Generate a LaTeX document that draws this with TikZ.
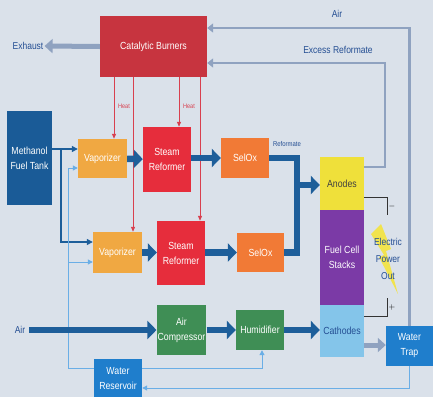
\documentclass[tikz,border=0pt]{standalone}
\usepackage{fontspec}
\setmainfont[FakeStretch=0.85]{Liberation Sans}
\usetikzlibrary{arrows.meta}
\definecolor{bgc}{HTML}{DAE1EA}
\definecolor{burnc}{HTML}{C7343F}
\definecolor{tankc}{HTML}{1A5B97}
\definecolor{vapc}{HTML}{F0A842}
\definecolor{src}{HTML}{E62D3C}
\definecolor{selc}{HTML}{F17A36}
\definecolor{anodec}{HTML}{EFE03A}
\definecolor{fcsc}{HTML}{7B3AA6}
\definecolor{cathc}{HTML}{84C5EA}
\definecolor{greenc}{HTML}{3F8E55}
\definecolor{bluec}{HTML}{1F7ECC}
\definecolor{dblue}{HTML}{1D5E9A}
\definecolor{retc}{HTML}{8FA2C0}
\definecolor{waterc}{HTML}{6AAEE6}
\definecolor{heatc}{HTML}{D8404F}
\definecolor{txtblue}{HTML}{244E93}
\pgfdeclarelayer{back}
\pgfdeclarelayer{bg}
\pgfsetlayers{back,bg,main}
\begin{document}
\begin{tikzpicture}[x=1pt,y=-1pt,
  box/.style={inner sep=1pt,align=center,text=white,font=\fontsize{10.3}{15}\selectfont},
  lbl/.style={text=txtblue,font=\fontsize{10}{12}\selectfont,inner sep=1pt},
  big/.style={draw=dblue,line width=6.5pt,-{Triangle[length=9pt,width=18pt]}},
  bigline/.style={draw=dblue,line width=6.5pt},
  retline/.style={draw=retc,line width=2.5pt,-{Triangle[length=6pt,width=9pt]}},
  graybig/.style={draw=retc,line width=5pt,-{Triangle[length=8pt,width=14pt]}},
  waterline/.style={draw=waterc,line width=1pt,-{Triangle[length=5pt,width=5pt]}},
  fuelline/.style={draw=dblue,line width=1.2pt,-{Triangle[length=6pt,width=6pt]}},
  heatline/.style={draw=heatc,line width=0.8pt,-{Triangle[length=5pt,width=4pt]}},
  elecline/.style={draw=black!80,line width=1pt},
  heatlbl/.style={text=heatc,font=\fontsize{6.5}{7}\selectfont,inner sep=0pt}]
\begin{pgfonlayer}{back}
\fill[bgc] (0,0) rectangle (433,397);
\end{pgfonlayer}
\useasboundingbox (0,0) rectangle (433,397);
% boxes
\node[box,fill=burnc,minimum width=107pt,minimum height=61pt] (burn) at (153.5,46.5) {Catalytic Burners};
\node[box,fill=tankc,minimum width=45pt,minimum height=94pt] (tank) at (29.5,158) {Methanol\\Fuel Tank};
\node[box,fill=vapc,minimum width=49pt,minimum height=39pt] (vap1) at (102.5,158.5) {Vaporizer};
\node[box,fill=src,minimum width=48pt,minimum height=65pt] (sr1) at (167,159.5) {Steam\\Reformer};
\node[box,fill=selc,minimum width=48pt,minimum height=40pt] (sel1) at (245,158) {SelOx};
\node[box,fill=vapc,minimum width=49pt,minimum height=41pt] (vap2) at (117.5,252.5) {Vaporizer};
\node[box,fill=src,minimum width=48pt,minimum height=64pt] (sr2) at (181,253) {Steam\\Reformer};
\node[box,fill=selc,minimum width=47pt,minimum height=39pt] (sel2) at (260.5,252.5) {SelOx};
\node[box,fill=anodec,text=black!75,minimum width=44pt,minimum height=53pt] (anode) at (342,183.5) {Anodes};
\node[box,fill=fcsc,minimum width=44pt,minimum height=95pt] (fcs) at (342,257.5) {Fuel Cell\\Stacks};
\node[box,fill=cathc,text=txtblue,minimum width=44pt,minimum height=52pt] (cath) at (342,331) {Cathodes};
\node[box,fill=greenc,minimum width=49pt,minimum height=50pt] (comp) at (181.5,330) {Air\\Compressor};
\node[box,fill=greenc,minimum width=48pt,minimum height=40pt] (hum) at (260,330) {Humidifier};
\node[box,fill=bluec,minimum width=47pt,minimum height=40pt] (trap) at (409.5,346) {Water\\Trap};
\node[box,fill=bluec,minimum width=48pt,minimum height=38pt] (res) at (118,378) {Water\\Reservoir};
% labels
\node[lbl] (exh) at (28,46) {Exhaust};
\node[lbl] (airtop) at (337,14) {Air};
\node[lbl] (exref) at (338,50) {Excess Reformate};
\node[lbl] (airin) at (20,330) {Air};
\node[text=txtblue,font=\fontsize{7}{8}\selectfont,inner sep=0pt] (reflbl) at (287,144) {Reformate};
\node[heatlbl] (heat1) at (124,106) {Heat};
\node[heatlbl] (heat2) at (189,106) {Heat};
\node[font=\fontsize{8}{8}\selectfont,inner sep=0pt] (minus) at (392,206) {$-$};
\node[font=\fontsize{8}{8}\selectfont,inner sep=0pt] (plus) at (392,307) {$+$};
% lightning bolt
\begin{pgfonlayer}{bg}
\fill[anodec!90!white] (371,234) -- (381,224) -- (391,249) -- (386,251) -- (398,294) -- (379,257) -- (384,255) -- cycle;
\end{pgfonlayer}
\node[text=txtblue,font=\fontsize{10}{17}\selectfont,align=center,inner sep=0pt] (elec) at (388,259) {Electric\\Power\\Out};
\begin{pgfonlayer}{bg}
% heat
\draw[heatline] ([xshift=11.5pt]vap1.north |- burn.south) -- ([xshift=11.5pt]vap1.north);
\draw[heatline] ([xshift=15.5pt]vap2.north |- burn.south) -- ([xshift=15.5pt]vap2.north);
\draw[heatline] ([xshift=12pt]sr1.north |- burn.south) -- ([xshift=12pt]sr1.north);
\draw[heatline] ([xshift=19pt]sr2.north |- burn.south) -- ([xshift=19pt]sr2.north);
% fuel
\coordinate (fj) at (61,149);
\draw[fuelline] ([yshift=9.5pt]vap1.west -| tank.east) -- ([yshift=9.5pt]vap1.west);
\draw[fuelline] (fj) |- ([yshift=10.5pt]vap2.west);
% water
\coordinate (wv) at (68,368);
\draw[waterline] ([yshift=10pt]res.west) -- (wv) |- ([yshift=-9.5pt]vap1.west);
\draw[waterline] (wv |- vap2.west) ++(0,9.5) -- ([yshift=-9.5pt]vap2.west);
\draw[waterline] ([yshift=10pt]res.east) -| ([xshift=2pt]hum.south);
\draw[waterline] (trap.south) |- ([yshift=-10pt]res.east);
% thick flows
\draw[big] (vap1) -- (sr1);
\draw[big] (sr1.east |- sel1) -- (sel1);
\draw[big] (vap2) -- (sr2.west |- vap2);
\draw[big] (sr2.east |- sel2) -- (sel2);
\coordinate (rj) at (297,185);
\draw[bigline] (sel1.east) -| ([yshift=-3pt]rj);
\draw[bigline] (sel2.east) -| ([yshift=3pt]rj);
\draw[big] (rj) -- (rj -| anode.west);
\draw[big,shorten <=3pt] (airin.east) -- (comp.west);
\draw[big] (comp) -- (hum);
\draw[big] (hum) -- (cath.west |- hum);
% returns
\draw[graybig] (burn.west) -- (exh.east);
\draw[retline] (trap.north) |- ([yshift=18.5pt]burn.east);
\draw[retline] ([yshift=16.5pt]anode.east) -- ++(21,0) |- ([yshift=-16.5pt]burn.east);
\draw[graybig] ([yshift=-14pt]cath.east) -- ([yshift=-14pt]cath.east -| trap.west);
% electric
\coordinate (em) at (387,215);
\coordinate (ep) at (387,298);
\draw[elecline] ([yshift=-13.5pt]anode.east) -| (em);
\draw[elecline] ([yshift=15pt]cath.east) -| (ep);
\end{pgfonlayer}
\end{tikzpicture}
\end{document}
